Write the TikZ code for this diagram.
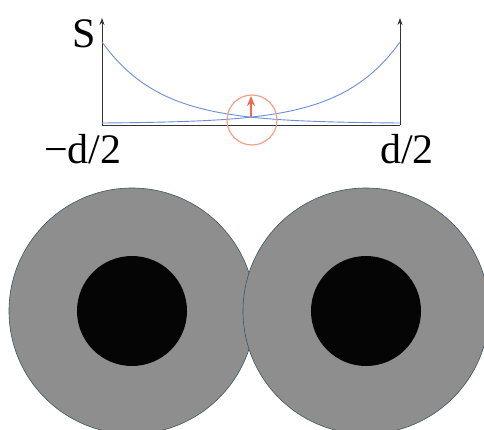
\documentclass[tikz,border=0pt]{standalone}
\usepackage{fontspec}
\setmainfont{Liberation Serif}
\usetikzlibrary{arrows.meta}
\definecolor{curveblue}{HTML}{6A8FD8}
\definecolor{ringred}{HTML}{F4A086}
\definecolor{arrred}{HTML}{EE6A4A}
\definecolor{discgray}{HTML}{8E8E8E}
\definecolor{discedge}{HTML}{3F5560}
\tikzset{
  axisline/.style={draw=black!80, line width=0.8pt},
  axisarrow/.style={axisline, -{Stealth[length=7pt,width=5pt]}},
  curve/.style={draw=curveblue, line width=0.9pt},
  bigtext/.style={font=\fontsize{42}{48}\selectfont, inner sep=0pt},
  outerdisc/.style={fill=discgray, draw=discedge, line width=0.6pt},
  innerdisc/.style={fill=black!98},
}
\begin{document}
\begin{tikzpicture}[x=1pt,y=-1pt]
\useasboundingbox (0,0) rectangle (484,429);
\clip (0,0) rectangle (484,429);
\fill[white] (0,0) rectangle (484,429);
% discs
\draw[outerdisc] (132,311) circle[radius=123];
\fill[innerdisc] (132,311) circle[radius=55];
\draw[outerdisc] (366,311) circle[radius=123];
\fill[innerdisc] (366,311) circle[radius=55];
% axes
\coordinate (o) at (102,125);
\coordinate (e) at (400,125);
\coordinate (ltop) at (102,18);
\coordinate (rtop) at (400,18);
\draw[axisarrow] (o) -- (ltop);
\draw[axisarrow] (e) -- (rtop);
\draw[axisline] (o) -- (e);
% curves
\draw[curve] plot[domain=0:298, samples=120] ({102+\x},{125-(1.5+81.5*exp(-\x/58.5))});
\draw[curve] plot[domain=0:298, samples=120] ({400-\x},{125-(1.5+81.5*exp(-\x/58.5))});
% ring and arrow
\node[draw=ringred, line width=1.2pt, circle, minimum size=50pt, inner sep=0pt] (ring) at (252,120) {};
\coordinate (abot) at (251,117);
\coordinate (atop) at (251,96);
\draw[draw=arrred, line width=2pt, -{Stealth[length=10pt,width=8pt]}] (abot) -- (atop);
% labels
\node[bigtext, anchor=base east] (S) at (96,47) {S};
\node[bigtext, anchor=base west] (lm) at (44,163) {−d/2};
\node[bigtext, anchor=base west] (lp) at (380,163) {d/2};
\end{tikzpicture}
\end{document}
